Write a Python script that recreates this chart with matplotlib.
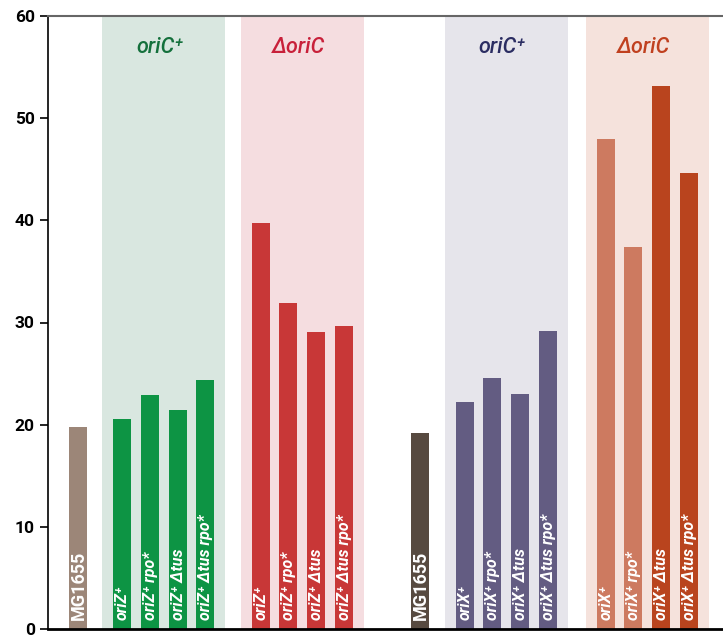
import matplotlib
matplotlib.use('Agg')
import matplotlib.pyplot as plt

plt.rcParams['font.family'] = ['Roboto', 'DejaVu Sans']

# values
wt_values = [19.8, 19.2]
wt_labels = ['MG1655', 'MG1655']

oriz_plus = [20.6, 22.9, 21.4, 24.4]
oriz_delta = [39.7, 31.9, 29.1, 29.7]
orix_plus = [22.2, 24.6, 23.0, 29.2]
orix_delta = [48.0, 37.4, 53.1, 44.6]

oriz_labels = ['oriZ\u207a', 'oriZ\u207a rpo*', 'oriZ\u207a \u0394tus', 'oriZ\u207a \u0394tus rpo*']
orix_labels = ['oriX\u207a', 'oriX\u207a rpo*', 'oriX\u207a \u0394tus', 'oriX\u207a \u0394tus rpo*']

group_titles = ['oriC\u207a', '\u0394oriC', 'oriC\u207a', '\u0394oriC']
title_colors = ['#14703c', '#c8203a', '#2b2d62', '#c0401f']
shade_colors = ['#d9e7e0', '#f5dde0', '#e6e5eb', '#f5e2dc']
bar_colors = [['#0d9444'] * 4,
              ['#c83737'] * 4,
              ['#635c82'] * 4,
              ['#cd7a60', '#cd7a60', '#b9441e', '#b9441e']]
wt_colors = ['#9c8678', '#574a40']

# layout (pixel-like x units)
step = 27.8
wt_x = [78, 420]
group_start = [122, 260.5, 464.5, 605.5]
width = 18

fig = plt.figure(figsize=(7.23, 6.41), dpi=100)
ax = fig.add_axes([48 / 723, 12 / 641, 675 / 723, 613 / 641])

groups = [oriz_plus, oriz_delta, orix_plus, orix_delta]
glabels = [oriz_labels, oriz_labels, orix_labels, orix_labels]

lab_kw = dict(rotation=90, ha='left', va='center', color='white',
              fontweight='bold', rotation_mode='anchor', zorder=3)

for g, vals in enumerate(groups):
    xs = [group_start[g] + i * step for i in range(len(vals))]
    ax.axvspan(xs[0] - 20, xs[-1] + 20, color=shade_colors[g], zorder=0, lw=0)
    ax.bar(xs, vals, width, color=bar_colors[g], zorder=2)
    for x, lab in zip(xs, glabels[g]):
        ax.text(x + 0.5, 0.9, lab, style='italic', fontsize=11.5, **lab_kw)
    ax.text((xs[0] + xs[-1]) / 2 - 4, 56.9, group_titles[g], ha='center', va='center',
            color=title_colors[g], fontsize=15.5, style='italic', fontweight='medium')

ax.bar(wt_x, wt_values, width, color=wt_colors, zorder=2)
for x, lab in zip(wt_x, wt_labels):
    ax.text(x + 0.5, 0.9, lab, fontsize=13, **lab_kw)

ax.set_xlim(48, 723)
ax.set_ylim(0, 60)
ax.set_yticks(range(0, 61, 10))
ax.set_xticks([])
ax.tick_params(axis='y', direction='out', length=6, width=1.2, labelsize=12.5)
for t in ax.get_yticklabels():
    t.set_fontweight('bold')

ax.spines['right'].set_visible(False)
ax.spines['top'].set_color('#666666')
ax.spines['top'].set_linewidth(1.5)
ax.spines['left'].set_linewidth(1.2)
ax.spines['bottom'].set_linewidth(2)

fig.savefig('out.png', dpi=100)
